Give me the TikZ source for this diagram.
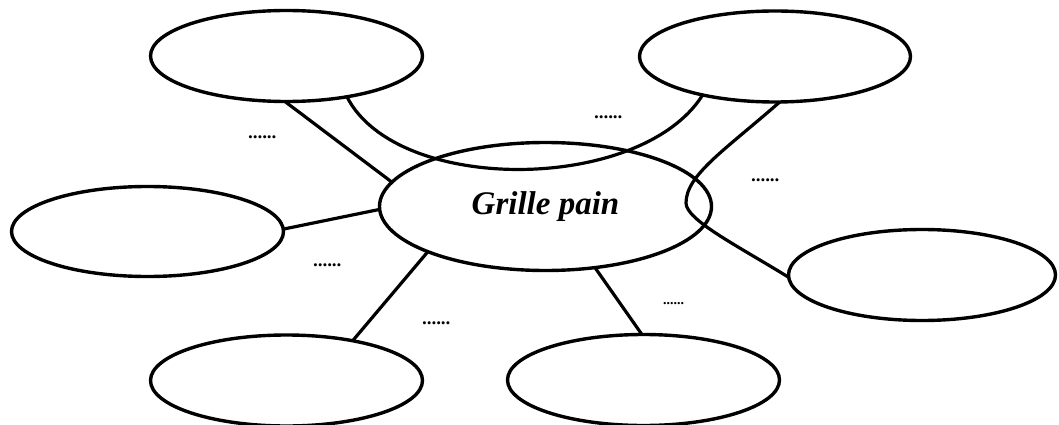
\documentclass[tikz,border=0pt]{standalone}
\usepackage{fontspec}
\setmainfont{Liberation Serif}
\usetikzlibrary{shapes.geometric}
\begin{document}
\begin{tikzpicture}[x=1pt,y=-1pt,
  bubble/.style={draw, ellipse, line width=3.4pt, inner sep=0pt, outer sep=0pt,
                 minimum width=272pt, minimum height=91pt},
  link/.style={line width=3.2pt},
  dotlabel/.style={inner sep=0pt, font=\bfseries\itshape\fontsize{18.7}{20}\selectfont},
  smalldot/.style={inner sep=0pt, font=\bfseries\itshape\fontsize{14}{16}\selectfont}
]
\useasboundingbox (0,0) rectangle (1059,425);

% ellipses
\node[bubble] (TL) at (286.5,56) {};
\node[bubble, minimum width=271pt] (TR) at (775,56.5) {};
\node[bubble, minimum height=90pt] (L) at (147.5,231.5) {};
\node[bubble, minimum width=332pt, minimum height=128pt,
      font=\bfseries\itshape\fontsize{33}{40}\selectfont] (C) at (545.5,206.5) {Grille pain};
\node[bubble, minimum width=267pt] (R) at (922,275) {};
\node[bubble] (BL) at (286.5,380.5) {};
\node[bubble] (BC) at (643.5,380) {};

\coordinate (bend) at (686,203);

% connectors
\draw[link] (TL.-92) -- (C.171.5);
\draw[link] (TL.-34) .. controls (397,195) and (641,193) .. (TR.208);
\draw[link] (TR.-84) .. controls (725,150) and (686,175) .. (bend)
            .. controls (686,220) and (738,246) .. (R.181);
\draw[link] (L.1) -- (C.181.5);
\draw[link] (BL.31) -- (C.-159);
\draw[link] (BC.92) -- (C.-51);

% labels
\node[dotlabel] (d1) at (263,137) {......};
\node[dotlabel] (d2) at (609,117) {......};
\node[dotlabel] (d3) at (766,180) {......};
\node[dotlabel] (d4) at (328,265) {......};
\node[dotlabel] (d5) at (437,323) {......};
\node[smalldot] (d6) at (674,304) {......};
\end{tikzpicture}
\end{document}
